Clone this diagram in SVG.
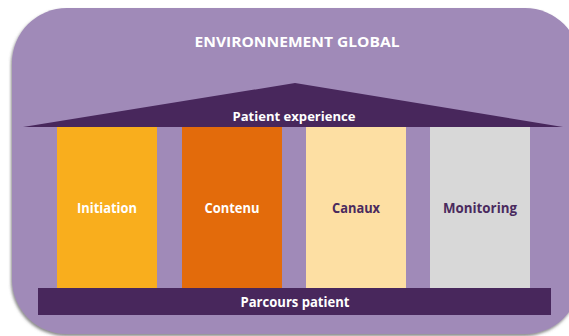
<svg xmlns="http://www.w3.org/2000/svg" width="569" height="336" viewBox="0 0 569 336">
  <defs>
    <filter id="shadow" x="-5%" y="-5%" width="110%" height="115%">
      <feDropShadow dx="-1" dy="2" stdDeviation="1.6" flood-color="#555555" flood-opacity="0.7"/>
    </filter>
  </defs>
  <style>
    .frame { fill: #A08AB8; }
    .dark { fill: #48275C; }
    .lbl { font-family: "Open Sans", "Liberation Sans", sans-serif; font-weight: bold; text-anchor: middle; }
    .light { fill: #FFFFFF; }
    .ink { fill: #4A2A5E; }
  </style>

  <rect width="569" height="336" fill="#FFFFFF"/>

  <!-- outer environment -->
  <g id="environnement">
    <rect class="frame" x="12" y="8" width="568" height="326" rx="55" ry="55" filter="url(#shadow)"/>
    <text class="lbl light" x="297" y="47" font-size="14" textLength="205" lengthAdjust="spacingAndGlyphs">ENVIRONNEMENT GLOBAL</text>
  </g>

  <!-- roof -->
  <g id="patient-experience">
    <polygon class="dark" points="23,127 295,83 563,127"/>
    <text class="lbl light" x="294" y="121" font-size="13" textLength="123" lengthAdjust="spacingAndGlyphs">Patient experience</text>
  </g>

  <!-- pillars -->
  <g id="initiation">
    <rect x="57" y="127" width="100" height="161" fill="#F9AE1D"/>
    <text class="lbl light" x="107" y="213" font-size="13.5" textLength="60" lengthAdjust="spacingAndGlyphs">Initiation</text>
  </g>
  <g id="contenu">
    <rect x="182" y="127" width="100" height="161" fill="#E36B0B"/>
    <text class="lbl light" x="232" y="213" font-size="13.5" textLength="55" lengthAdjust="spacingAndGlyphs">Contenu</text>
  </g>
  <g id="canaux">
    <rect x="306" y="127" width="100" height="161" fill="#FDDFA3"/>
    <text class="lbl ink" x="356" y="213" font-size="13.5" textLength="48" lengthAdjust="spacingAndGlyphs">Canaux</text>
  </g>
  <g id="monitoring">
    <rect x="430" y="127" width="100" height="161" fill="#D8D8D8"/>
    <text class="lbl ink" x="480" y="213" font-size="13.5" textLength="74" lengthAdjust="spacingAndGlyphs">Monitoring</text>
  </g>

  <!-- base -->
  <g id="parcours-patient">
    <rect class="dark" x="38" y="288" width="513" height="27"/>
    <text class="lbl light" x="295" y="307" font-size="13.5" textLength="109" lengthAdjust="spacingAndGlyphs">Parcours patient</text>
  </g>

  <g id="connectors"/>
</svg>
